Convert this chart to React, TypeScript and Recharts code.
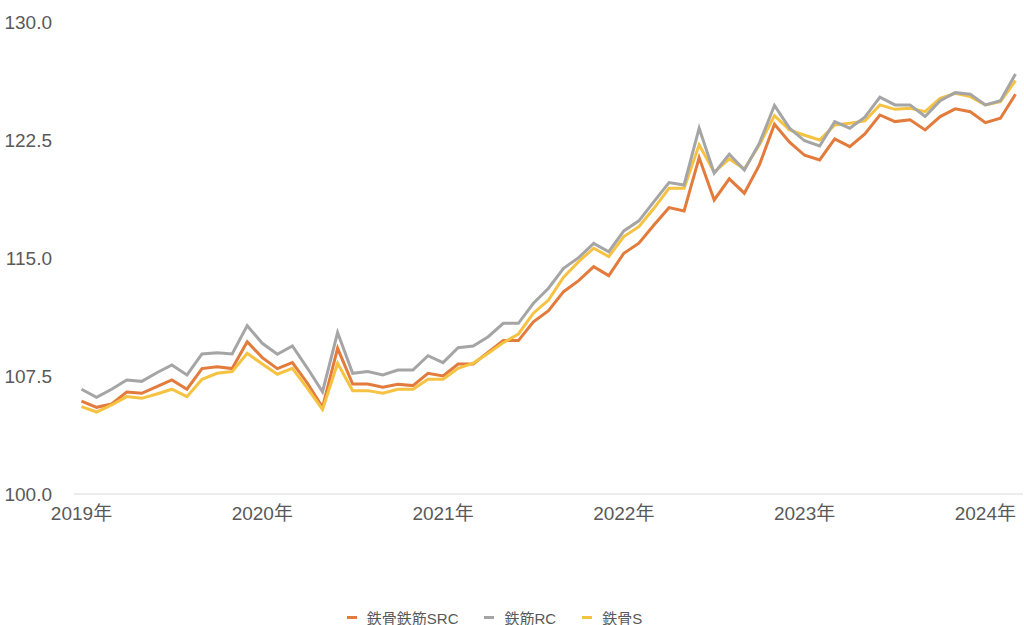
import { LineChart, Line, XAxis, YAxis, Legend } from "recharts"

const months = [
  "2019-01", "2019-02", "2019-03", "2019-04", "2019-05", "2019-06", "2019-07", "2019-08", "2019-09", "2019-10", "2019-11", "2019-12",
  "2020-01", "2020-02", "2020-03", "2020-04", "2020-05", "2020-06", "2020-07", "2020-08", "2020-09", "2020-10", "2020-11", "2020-12",
  "2021-01", "2021-02", "2021-03", "2021-04", "2021-05", "2021-06", "2021-07", "2021-08", "2021-09", "2021-10", "2021-11", "2021-12",
  "2022-01", "2022-02", "2022-03", "2022-04", "2022-05", "2022-06", "2022-07", "2022-08", "2022-09", "2022-10", "2022-11", "2022-12",
  "2023-01", "2023-02", "2023-03", "2023-04", "2023-05", "2023-06", "2023-07", "2023-08", "2023-09", "2023-10", "2023-11", "2023-12",
  "2024-01", "2024-02", "2024-03",
]

// 鉄骨鉄筋SRC
const src = [
  105.91, 105.51, 105.72, 106.48, 106.4, 106.82, 107.25, 106.66, 107.97, 108.09, 107.97, 109.68,
  108.67, 107.97, 108.35, 107.04, 105.51, 109.26, 106.99, 106.99, 106.78, 106.97, 106.89, 107.67,
  107.5, 108.26, 108.26, 109.01, 109.75, 109.75, 110.95, 111.65, 112.86, 113.56, 114.45, 113.88,
  115.3, 115.94, 117.1, 118.2, 117.99, 121.38, 118.69, 120.03, 119.12, 120.92, 123.5, 122.36,
  121.53, 121.23, 122.57, 122.08, 122.89, 124.09, 123.67, 123.78, 123.14, 123.99, 124.48, 124.3,
  123.6, 123.88, 125.41,
]

// 鉄筋RC
const rc = [
  106.66, 106.15, 106.66, 107.25, 107.16, 107.71, 108.2, 107.57, 108.9, 108.98, 108.9, 110.7,
  109.58, 108.88, 109.41, 107.99, 106.5, 110.26, 107.67, 107.78, 107.57, 107.88, 107.88, 108.79,
  108.35, 109.3, 109.41, 110.0, 110.85, 110.85, 112.12, 113.08, 114.35, 115.02, 115.93, 115.4,
  116.72, 117.36, 118.58, 119.79, 119.64, 123.25, 120.39, 121.6, 120.6, 122.3, 124.69, 123.25,
  122.45, 122.12, 123.67, 123.25, 123.95, 125.22, 124.73, 124.73, 123.99, 125.0, 125.51, 125.41,
  124.73, 125.0, 126.7,
]

// 鉄骨S
const s = [
  105.55, 105.21, 105.66, 106.19, 106.08, 106.36, 106.66, 106.19, 107.29, 107.67, 107.78, 108.94,
  108.26, 107.61, 107.99, 106.72, 105.38, 108.31, 106.57, 106.57, 106.4, 106.66, 106.66, 107.29,
  107.29, 107.99, 108.31, 108.94, 109.62, 110.17, 111.49, 112.33, 113.78, 114.77, 115.62, 115.09,
  116.36, 116.99, 118.16, 119.43, 119.43, 122.19, 120.45, 121.3, 120.66, 122.19, 124.05, 123.14,
  122.8, 122.5, 123.46, 123.57, 123.71, 124.73, 124.45, 124.52, 124.3, 125.15, 125.47, 125.26,
  124.73, 124.94, 126.27,
]

const yTicks = [100, 107.5, 115, 122.5, 130]
const xTicks = ["2019-01", "2020-01", "2021-01", "2022-01", "2023-01", "2024-01"]

const series = [
  { key: "src", name: "鉄骨鉄筋SRC", color: "#E27B3B" },
  { key: "rc", name: "鉄筋RC", color: "#A5A5A5" },
  { key: "s", name: "鉄骨S", color: "#F5C242" },
]

const data = months.map((m, i) => ({ month: m, src: src[i], rc: rc[i], s: s[i] }))

const font = "'Liberation Sans', 'Noto Sans CJK JP', sans-serif"

function LegendContent() {
  return (
    <div
      style={{
        display: "flex",
        justifyContent: "center",
        alignItems: "center",
        height: 16,
        paddingRight: 34,
        fontFamily: font,
        fontSize: 15,
        color: "#595959",
      }}
    >
      {series.map((sr, i) => (
        <div key={sr.key} style={{ display: "flex", alignItems: "center", marginLeft: i === 0 ? 0 : 26 }}>
          <span style={{ display: "inline-block", width: 10, height: 3, background: sr.color, marginRight: 10 }} />
          <span>{sr.name}</span>
        </div>
      ))}
    </div>
  )
}

export default function App() {
  const drawOrder = [series[0], series[2], series[1]]
  return (
    <div style={{ position: "absolute", left: 0, top: 0, width: 1024, height: 625, background: "#fff" }}>
      <LineChart width={1024} height={625} data={data} margin={{ top: 22, right: 1, left: 0, bottom: 0 }}>
        <XAxis
          dataKey="month"
          ticks={xTicks}
          interval={0}
          tickFormatter={(v: string) => `${v.slice(0, 4)}年`}
          axisLine={{ stroke: "#d9d9d9" }}
          tickLine={false}
          tickMargin={7}
          height={115}
          padding={{ left: 7.5, right: 7.5 }}
          tick={{ fill: "#595959", fontSize: 19, fontFamily: font }}
        />
        <YAxis
          domain={[100, 130]}
          ticks={yTicks}
          width={74}
          axisLine={false}
          tickLine={false}
          tickMargin={16}
          tickFormatter={(v: number) => v.toFixed(1)}
          tick={{ fill: "#595959", fontSize: 19, fontFamily: font }}
        />
        {drawOrder.map((sr) => (
          <Line
            key={sr.key}
            type="linear"
            dataKey={sr.key}
            name={sr.name}
            stroke={sr.color}
            strokeWidth={3}
            dot={false}
            activeDot={false}
            isAnimationActive={false}
          />
        ))}
        <Legend verticalAlign="bottom" content={<LegendContent />} />
      </LineChart>
    </div>
  )
}
